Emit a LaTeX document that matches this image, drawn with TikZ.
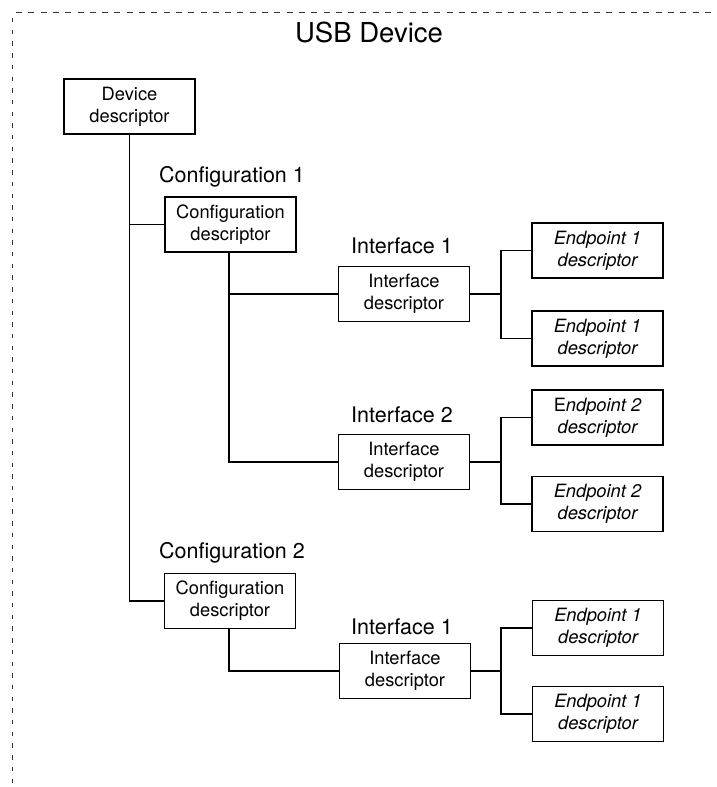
\documentclass[tikz,border=0pt]{standalone}
\usepackage{fontspec}
\setmainfont{TeX Gyre Heros}
\begin{document}
\begin{tikzpicture}[x=1pt,y=-1pt,
  desc/.style={draw, line width=1.2pt, minimum width=131pt, minimum height=55pt,
    inner sep=0pt, align=center, font=\fontsize{18.3}{22}\selectfont},
  epdesc/.style={desc, font=\fontsize{18.3}{22}\selectfont\itshape},
  grouplabel/.style={font=\fontsize{21.5}{24}\selectfont, inner sep=0pt},
  wire/.style={line width=1.2pt},
  frame/.style={line width=1pt, color=black!80}]
\useasboundingbox (0,0) rectangle (717,787);

% device outline (open to the right and bottom)
\draw[frame, dash pattern=on 6pt off 6.3pt] (16,12.7) -- (720,12.7);
\draw[frame, dash pattern=on 4.4pt off 7.3pt] (12,18) -- (12,790);
\node[font=\fontsize{27.5}{30}\selectfont, inner sep=0pt] (title) at (369,32) {USB Device};

% descriptor boxes
\node[desc] (dev) at (129.5,106.5) {Device\\descriptor};

\node[grouplabel] (c1lbl) at (232,177) {Configuration 1};
\node[desc] (cfg1) at (230.5,224.5) {Configuration\\descriptor};

\node[grouplabel] (i1lbl) at (402,246) {Interface 1};
\node[desc] (if1) at (404,294) {Interface\\descriptor};
\node[epdesc] (ep1a) at (597.5,250.5) {Endpoint 1\\descriptor};
\node[epdesc] (ep1b) at (597.5,338.5) {Endpoint 1\\descriptor};

\node[grouplabel] (i2lbl) at (402,415) {Interface 2};
\node[desc] (if2) at (404,462) {Interface\\descriptor};
\node[epdesc] (ep2a) at (597.5,417.5) {{\upshape E}ndpoint 2\\descriptor};
\node[epdesc] (ep2b) at (597.5,504) {Endpoint 2\\descriptor};

\node[grouplabel] (c2lbl) at (232,553) {Configuration 2};
\node[desc] (cfg2) at (230,601) {Configuration\\descriptor};

\node[grouplabel] (i3lbl) at (402,627) {Interface 1};
\node[desc] (if3) at (405,671) {Interface\\descriptor};
\node[epdesc] (ep3a) at (598,628) {Endpoint 1\\descriptor};
\node[epdesc] (ep3b) at (598,714) {Endpoint 1\\descriptor};

% device -> configurations
\draw[wire] (dev.south) |- (cfg2.west);
\draw[wire] (dev.south |- cfg1.west) -- (cfg1.west);

% configuration 1 -> interfaces
\draw[wire] ([xshift=-1.5pt]cfg1.south) |- (if2.west);
\draw[wire] ([xshift=-1.5pt]cfg1.south |- if1.west) -- (if1.west);

% configuration 2 -> interface
\draw[wire] ([xshift=-1pt]cfg2.south) |- (if3.west);

% interfaces -> endpoints
\foreach \i/\a/\b in {if1/ep1a/ep1b, if2/ep2a/ep2b, if3/ep3a/ep3b}{
  \coordinate (fork) at (501,0);
  \draw[wire] (\i.east) -- (fork |- \i.east);
  \draw[wire] (\a.west) -| (fork |- \b.west) -- (\b.west);
}
\end{tikzpicture}
\end{document}
